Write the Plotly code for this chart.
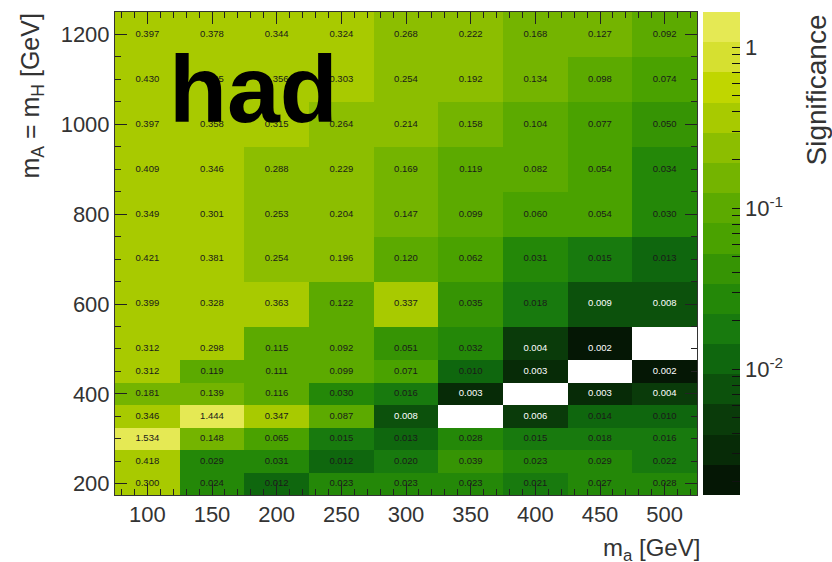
import numpy as np
import plotly.graph_objects as go

# ---------------- data ----------------
m_a = [100, 150, 200, 250, 300, 350, 400, 450, 500]
m_A = [200, 250, 300, 350, 400, 450, 500, 600, 700, 800, 900, 1000, 1100, 1200]
N = None
sig_200 = [0.300, 0.024, 0.012, 0.023, 0.023, 0.023, 0.021, 0.027, 0.028]
sig_250 = [0.418, 0.029, 0.031, 0.012, 0.020, 0.039, 0.023, 0.029, 0.022]
sig_300 = [1.534, 0.148, 0.065, 0.015, 0.013, 0.028, 0.015, 0.018, 0.016]
sig_350 = [0.346, 1.444, 0.347, 0.087, 0.008, N, 0.006, 0.014, 0.010]
sig_400 = [0.181, 0.139, 0.116, 0.030, 0.016, 0.003, N, 0.003, 0.004]
sig_450 = [0.312, 0.119, 0.111, 0.099, 0.071, 0.010, 0.003, N, 0.002]
sig_500 = [0.312, 0.298, 0.115, 0.092, 0.051, 0.032, 0.004, 0.002, N]
sig_600 = [0.399, 0.328, 0.363, 0.122, 0.337, 0.035, 0.018, 0.009, 0.008]
sig_700 = [0.421, 0.381, 0.254, 0.196, 0.120, 0.062, 0.031, 0.015, 0.013]
sig_800 = [0.349, 0.301, 0.253, 0.204, 0.147, 0.099, 0.060, 0.054, 0.030]
sig_900 = [0.409, 0.346, 0.288, 0.229, 0.169, 0.119, 0.082, 0.054, 0.034]
sig_1000 = [0.397, 0.358, 0.315, 0.264, 0.214, 0.158, 0.104, 0.077, 0.050]
sig_1100 = [0.430, 0.405, 0.356, 0.303, 0.254, 0.192, 0.134, 0.098, 0.074]
sig_1200 = [0.397, 0.378, 0.344, 0.324, 0.268, 0.222, 0.168, 0.127, 0.092]

rows = [sig_200, sig_250, sig_300, sig_350, sig_400, sig_450, sig_500,
        sig_600, sig_700, sig_800, sig_900, sig_1000, sig_1100, sig_1200]

# ---------------- colour scale (ROOT-like banded, log z) ----------------
ZMIN, ZMAX = -2.78, 0.22
NBANDS = 16
anchors = [
    (-2.78, "#040c04"), (-2.55, "#062606"), (-2.3, "#0a3c0a"), (-2.1, "#0c540c"),
    (-1.93, "#0f680e"), (-1.75, "#187a0e"), (-1.56, "#248808"), (-1.37, "#369404"),
    (-1.19, "#4aa200"), (-1.0, "#5caa00"), (-0.81, "#74b400"), (-0.62, "#8cbe00"),
    (-0.44, "#a8ca00"), (-0.25, "#c0d600"), (-0.06, "#d6e030"), (0.22, "#ecee66"),
]


def hex2rgb(h):
    h = h.lstrip("#")
    return [int(h[i:i + 2], 16) for i in (0, 2, 4)]


def col_at(v):
    for (a, ca), (b, cb) in zip(anchors[:-1], anchors[1:]):
        if a <= v <= b:
            t = (v - a) / (b - a)
            c1, c2 = hex2rgb(ca), hex2rgb(cb)
            return "rgb(%d,%d,%d)" % tuple(round(c1[k] + t * (c2[k] - c1[k])) for k in range(3))
    return anchors[-1][1] if v > anchors[-1][0] else anchors[0][1]


d = (ZMAX - ZMIN) / NBANDS
cscale = []
for i in range(NBANDS):
    c = col_at(ZMIN + (i + 0.5) * d)
    cscale.append([i / NBANDS, c])
    cscale.append([(i + 1) / NBANDS, c])

z = [[np.log10(v) if v is not None else None for v in r] for r in rows]

# colorbar ticks (log positions)
cb_vals, cb_text = [], []
for dec in range(-3, 1):
    for k in range(1, 10):
        v = np.log10(k * 10.0 ** dec)
        if ZMIN <= v <= ZMAX:
            cb_vals.append(v)
            if k == 1:
                cb_text.append({-2: "10<sup>-2</sup>", -1: "10<sup>-1</sup>", 0: "1"}[dec])
            else:
                cb_text.append(" ")

fig = go.Figure()
fig.add_trace(go.Heatmap(
    x=m_a, y=m_A, z=z, zmin=ZMIN, zmax=ZMAX, colorscale=cscale,
    hoverinfo="skip",
    colorbar=dict(
        x=1.0103, xanchor="left", xpad=0, ypad=0,
        y=0.5, yanchor="middle", len=1, lenmode="fraction",
        thickness=37, thicknessmode="pixels", outlinewidth=0,
        tickmode="array", tickvals=cb_vals, ticktext=cb_text,
        ticks="inside", ticklen=8, tickcolor="#111", tickwidth=1,
        tickfont=dict(family="Liberation Sans", size=22, color="#333"),
    ),
))

# cell labels
tx, ty, tt, tc = [], [], [], []
for j, r in enumerate(rows):
    for i, v in enumerate(r):
        if v is None:
            continue
        tx.append(m_a[i]); ty.append(m_A[j]); tt.append("%.3f" % v)
        tc.append("white" if v < 0.01 else "#1a1a1a")
fig.add_trace(go.Scatter(x=tx, y=ty, text=tt, mode="text",
                         textfont=dict(family="Liberation Sans", size=9.5, color=tc),
                         hoverinfo="skip", showlegend=False))

axis_common = dict(showgrid=False, zeroline=False, ticks="inside", mirror="allticks",
                   showline=True, linecolor="#333", linewidth=1, tickcolor="#222",
                   tickfont=dict(family="Liberation Sans", size=22, color="#333"))
fig.update_xaxes(range=[75, 525], tickmode="linear", tick0=100, dtick=50, ticklen=12,
                 minor=dict(dtick=10, ticklen=6, ticks="inside", tickcolor="#222"),
                 **axis_common)
fig.update_yaxes(range=[175, 1250], tickmode="linear", tick0=200, dtick=200, ticklen=12,
                 minor=dict(dtick=50, ticklen=6, ticks="inside", tickcolor="#222"),
                 **axis_common)

# longer major ticks on the colorbar
PW, PH, L, T = 582, 483, 115, 12
for v in [-2, -1, 0]:
    yp = (v - ZMIN) / (ZMAX - ZMIN)
    fig.add_shape(type="line", xref="paper", yref="paper",
                  x0=(740 - L) / PW, x1=(722 - L) / PW, y0=yp, y1=yp,
                  line=dict(color="#111", width=1))

fig.add_annotation(text="<b>had</b>", xref="paper", yref="paper",
                   x=(167 - L) / PW, y=(495 - 89) / PH, xanchor="left", yanchor="middle",
                   showarrow=False, font=dict(family="Liberation Sans", size=95, color="black"))
fig.add_annotation(text="m<sub>A</sub> = m<sub>H</sub> [GeV]", xref="paper", yref="paper",
                   x=(31 - L) / PW, y=(495 - 12) / PH, xanchor="center", yanchor="top",
                   textangle=-90, showarrow=False,
                   font=dict(family="Liberation Sans", size=25, color="#333"))
fig.add_annotation(text="m<sub>a</sub> [GeV]", xref="paper", yref="paper",
                   x=(702 - L) / PW, y=(495 - 549) / PH, xanchor="right", yanchor="middle",
                   showarrow=False, font=dict(family="Liberation Sans", size=24, color="#333"))
fig.add_annotation(text="Significance", xref="paper", yref="paper",
                   x=(816 - L) / PW, y=(495 - 13) / PH, xanchor="center", yanchor="top",
                   textangle=-90, showarrow=False,
                   font=dict(family="Liberation Sans", size=28, color="#333"))

fig.update_layout(width=832, height=562, margin=dict(l=L, r=832 - 697, t=T, b=562 - 495),
                  paper_bgcolor="white", plot_bgcolor="white", showlegend=False,
                  hovermode=False)
fig.write_html("out.html")
